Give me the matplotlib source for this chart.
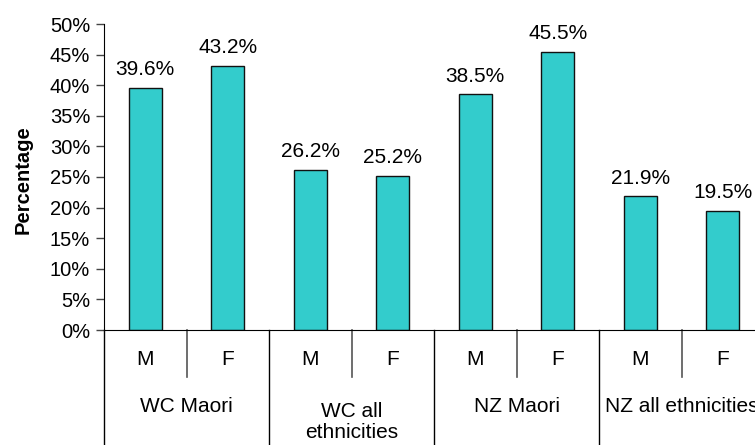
import matplotlib
matplotlib.use('Agg')
import matplotlib.pyplot as plt
import numpy as np

plt.rcParams['font.family'] = ['Liberation Sans', 'DejaVu Sans']

# data
groups = ['WC Maori', 'WC all\nethnicities', 'NZ Maori', 'NZ all ethnicities']
sexes = ['M', 'F']
values = [39.6, 43.2, 26.2, 25.2, 38.5, 45.5, 21.9, 19.5]
yticks = np.arange(0, 55, 5)

fig = plt.figure(figsize=(7.55, 4.45), dpi=100)
# axes run past the right edge, the original chart is cropped there
ax = fig.add_axes([104/755, 115/445, 660/755, 306/445])

x = np.arange(len(values))
ax.bar(x, values, width=0.4, color='#33CCCC', edgecolor='#111111', linewidth=1.0)
for xi, v in zip(x, values):
    ax.annotate('%.1f%%' % v, (xi, v), xytext=(0, 6), textcoords='offset points',
                ha='center', va='bottom', fontsize=15)

ax.set_xlim(-0.5, len(values) - 0.5)
ax.set_ylim(0, 50)
ax.set_yticks(yticks)
ax.set_yticklabels(['%d%%' % t for t in yticks], fontsize=14.5)
ax.set_xticks([])
ax.tick_params(axis='y', direction='out', length=6, width=1, pad=4, color='#444444')
ax.set_ylabel('Percentage', fontsize=14.5, fontweight='bold')
ax.yaxis.set_label_coords(-0.108, 0.49)
for s in ['top', 'right']:
    ax.spines[s].set_visible(False)

# table-like category axis underneath
trans = ax.get_xaxis_transform()
ax.plot([-0.5, -0.5], [0, -0.5], color='black', lw=1, transform=trans, clip_on=False)
for g, name in enumerate(groups):
    left = g * len(sexes) - 0.5
    right = left + len(sexes)
    ax.plot([right, right], [0, -0.5], color='black', lw=1, transform=trans, clip_on=False)
    for k, sx in enumerate(sexes):
        xi = g * len(sexes) + k
        ax.text(xi, -0.098, sx, transform=trans, ha='center', va='center', fontsize=15)
        if k < len(sexes) - 1:
            ax.plot([xi + 0.5, xi + 0.5], [0, -0.154], color='#555555', lw=1.2,
                    transform=trans, clip_on=False)
    ax.text((left + right) / 2, -0.25 if '\n' not in name else -0.30, name,
            transform=trans, ha='center', va='center', fontsize=15, linespacing=1.15)

fig.savefig('out.png', dpi=100)
